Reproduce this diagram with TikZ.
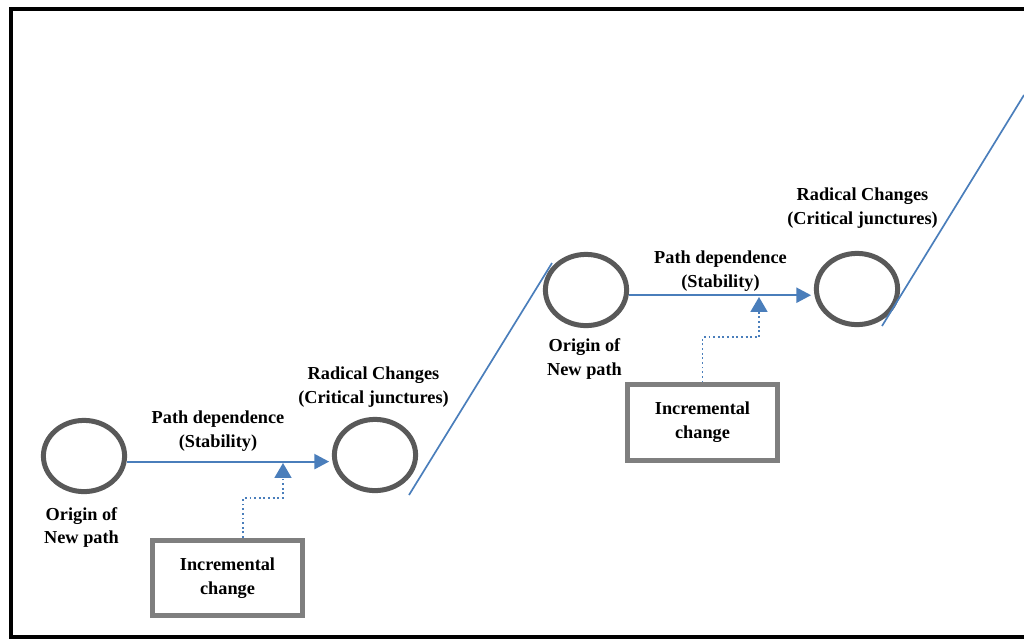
\documentclass[tikz,border=0pt]{standalone}
\usepackage{fontspec}
\setmainfont{Liberation Serif}
\usepackage{tikz}
\usetikzlibrary{arrows.meta, positioning, shapes.geometric}
\definecolor{pathblue}{RGB}{74,126,187}
\definecolor{ringgray}{RGB}{89,89,89}
\definecolor{boxgray}{RGB}{127,127,127}

\begin{document}
\begin{tikzpicture}[
      x=0.025cm, y=-0.025cm,
      ring/.style={draw=ringgray, ellipse, line width=0.125cm, inner sep=0pt,
                   minimum width=2.03cm, minimum height=1.78cm},
      incbox/.style={draw=boxgray, line width=0.125cm, fill=white,
                     minimum width=3.75cm, minimum height=1.88cm,
                     align=center, font=\fontsize{13}{17}\selectfont\bfseries},
      lbl/.style={align=center, font=\fontsize{13}{17}\selectfont\bfseries},
      stable/.style={-{Triangle[length=0.37cm, width=0.38cm]}, line width=1.4pt,
                     color=pathblue, shorten >=0.07cm},
      incr/.style={-{Triangle[length=0.37cm, width=0.42cm]}, line width=1.3pt,
                   dotted, color=pathblue},
      radical/.style={line width=1.2pt, color=pathblue},
      frame/.style={line width=0.1cm, color=black},
    ]
    \useasboundingbox (0,0) rectangle (1024,639);
    \draw[frame] (1040,9) -| (11,637) -- (1040,637);

    % first path
    \node[ring] (o1) at (84,456) {};
    \node[ring] (r1) at (375,455) {};
    \node[incbox] (b1) at (227.5,578) {Incremental\\change};
    \node[lbl] (lo1) at (81.5,527.5) {Origin of\\New path};
    \node[lbl] (ls1) at (218,431) {Path dependence\\(Stability)};
    \node[lbl] (lr1) at (373.5,387.5) {Radical Changes\\(Critical junctures)};

    % second path
    \node[ring] (o2) at (586,290) {};
    \node[ring] (r2) at (857,289) {};
    \node[incbox] (b2) at (702.5,422.5) {Incremental\\change};
    \node[lbl] (lo2) at (584.5,359) {Origin of\\New path};
    \node[lbl] (ls2) at (720.5,271) {Path dependence\\(Stability)};
    \node[lbl] (lr2) at (862.5,208) {Radical Changes\\(Critical junctures)};

    \coordinate (k1) at (283,463);
    \coordinate (k2) at (759,297);
    \coordinate (j1a) at (409,495);
    \coordinate (j1b) at (552,263);
    \coordinate (j2a) at (882,326);
    \coordinate (j2b) at (1024,95);

    \draw[stable] ([yshift=-0.14cm]o1.east) -- ([yshift=-0.14cm]o1.east -| r1.west);
    \draw[stable] ([yshift=-0.13cm]o2.east) -- ([yshift=-0.13cm]o2.east -| r2.west);

    \draw[incr] ([xshift=0.39cm]b1.north) -- ++(0,-40) -| (k1);
    \draw[incr] (b2.north) -- ++(0,-45) -| (k2);

    % jumps to the next path
    \draw[radical] (j1a) -- (j1b);
    \draw[radical] (j2a) -- (j2b);
  \end{tikzpicture}
\end{document}
